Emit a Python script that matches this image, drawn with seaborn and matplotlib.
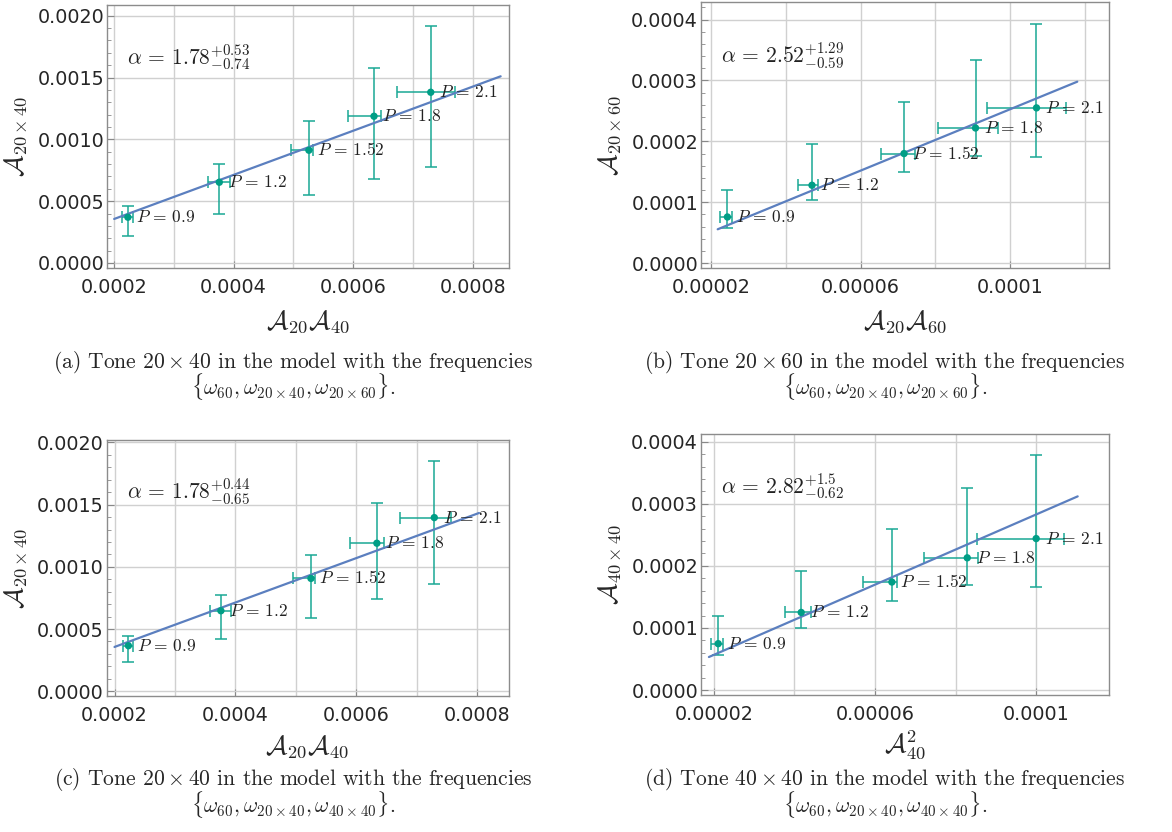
import numpy as np
import matplotlib
matplotlib.use("Agg")
import matplotlib.pyplot as plt
import seaborn as sns
from matplotlib.ticker import MultipleLocator, FixedLocator

sns.set_style("white")
plt.rcParams['font.family'] = ['DejaVu Sans']
plt.rcParams['mathtext.fontset'] = 'cm'

labels = ["0.9", "1.2", "1.52", "1.8", "2.1"]

# panel (a)
a_x = [0.000223, 0.000376, 0.000526, 0.000635, 0.000730]
a_y = [0.000370, 0.000653, 0.000912, 0.001187, 0.001381]
a_xlo = [0.000213, 0.000357, 0.000496, 0.000591, 0.000674]
a_xhi = [0.000232, 0.000394, 0.000533, 0.000647, 0.000770]
a_ylo = [0.000216, 0.000394, 0.000548, 0.000677, 0.000777]
a_yhi = [0.000464, 0.000803, 0.001146, 0.001580, 0.001920]
a_fit_x = [0.000200, 0.000847]
a_fit_y = [0.000356, 0.001510]

# panel (b)
b_x = [0.0000244, 0.0000470, 0.0000716, 0.0000907, 0.0001070]
b_y = [0.0000759, 0.000128, 0.000180, 0.000222, 0.000255]
b_xlo = [0.0000225, 0.0000433, 0.0000654, 0.0000808, 0.0000939]
b_xhi = [0.0000256, 0.0000486, 0.0000745, 0.0000967, 0.0001150]
b_ylo = [0.0000579, 0.000103, 0.000149, 0.000176, 0.000174]
b_yhi = [0.000120, 0.000195, 0.000264, 0.000334, 0.000393]
b_fit_x = [0.0000218, 0.0001179]
b_fit_y = [0.0000557, 0.000298]

# panel (c)
c_x = [0.000223, 0.000376, 0.000525, 0.000634, 0.000729]
c_y = [0.000366, 0.000647, 0.000907, 0.001190, 0.001396]
c_xlo = [0.000214, 0.000358, 0.000496, 0.000590, 0.000672]
c_xhi = [0.000231, 0.000393, 0.000532, 0.000646, 0.000756]
c_ylo = [0.000233, 0.000420, 0.000586, 0.000743, 0.000861]
c_yhi = [0.000444, 0.000775, 0.001096, 0.001514, 0.001850]
c_fit_x = [0.000200, 0.000803]
c_fit_y = [0.000356, 0.001433]

# panel (d)
d_x = [0.0000211, 0.0000417, 0.0000642, 0.0000829, 0.0001000]
d_y = [0.0000747, 0.000125, 0.000174, 0.000213, 0.000244]
d_xlo = [0.0000193, 0.0000376, 0.0000570, 0.0000721, 0.0000852]
d_xhi = [0.0000223, 0.0000441, 0.0000654, 0.0000856, 0.0001070]
d_ylo = [0.0000565, 0.0000995, 0.000144, 0.000169, 0.000166]
d_yhi = [0.000119, 0.000192, 0.000260, 0.000325, 0.000378]
d_fit_x = [0.0000188, 0.0001103]
d_fit_y = [0.0000532, 0.000312]

alphas = [r"$\alpha\,=\,1.78^{+0.53}_{-0.74}$", r"$\alpha\,=\,2.52^{+1.29}_{-0.59}$",
          r"$\alpha\,=\,1.78^{+0.44}_{-0.65}$", r"$\alpha\,=\,2.82^{+1.5}_{-0.62}$"]
ylabels = [r"$\mathcal{A}_{20\times40}$", r"$\mathcal{A}_{20\times60}$",
           r"$\mathcal{A}_{20\times40}$", r"$\mathcal{A}_{40\times40}$"]
xlabels = [r"$\mathcal{A}_{20}\mathcal{A}_{40}$", r"$\mathcal{A}_{20}\mathcal{A}_{60}$",
           r"$\mathcal{A}_{20}\mathcal{A}_{40}$", r"$\mathcal{A}_{40}^2$"]
captions = [
    r"(a) Tone $20\times40$ in the model with the frequencies" + "\n"
    + r"$\{\omega_{60},\omega_{20\times40},\omega_{20\times60}\}$.",
    r"(b) Tone $20\times60$ in the model with the frequencies" + "\n"
    + r"$\{\omega_{60},\omega_{20\times40},\omega_{20\times60}\}$.",
    r"(c) Tone $20\times40$ in the model with the frequencies" + "\n"
    + r"$\{\omega_{60},\omega_{20\times40},\omega_{40\times40}\}$.",
    r"(d) Tone $40\times40$ in the model with the frequencies" + "\n"
    + r"$\{\omega_{60},\omega_{20\times40},\omega_{40\times40}\}$.",
]

panels = [
    (a_x, a_y, a_xlo, a_xhi, a_ylo, a_yhi, a_fit_x, a_fit_y),
    (b_x, b_y, b_xlo, b_xhi, b_ylo, b_yhi, b_fit_x, b_fit_y),
    (c_x, c_y, c_xlo, c_xhi, c_ylo, c_yhi, c_fit_x, c_fit_y),
    (d_x, d_y, d_xlo, d_xhi, d_ylo, d_yhi, d_fit_x, d_fit_y),
]

# axes layout [left, bottom, width, height] and limits
rects = [[0.0913, 0.678, 0.343, 0.316], [0.598, 0.678, 0.348, 0.319],
         [0.091, 0.1635, 0.343, 0.3077], [0.598, 0.1643, 0.348, 0.3137]]
xlims = [(0.000188, 0.000861), (0.0000173, 0.0001263), (0.000187, 0.000852), (0.0000168, 0.000118)]
ylims = [(-0.00004, 0.002087), (-0.0000077, 0.000428), (-0.000038, 0.00202), (-0.0000085, 0.000412)]
xmajor = [[0.0002, 0.0004, 0.0006, 0.0008], [0.00002, 0.00006, 0.0001],
          [0.0002, 0.0004, 0.0006, 0.0008], [0.00002, 0.00006, 0.0001]]
xticklabels = [["0.0002", "0.0004", "0.0006", "0.0008"], ["0.00002", "0.00006", "0.0001"],
               ["0.0002", "0.0004", "0.0006", "0.0008"], ["0.00002", "0.00006", "0.0001"]]
xgrid = [0.0001, 0.00002, 0.0001, 0.00002]
ymajor = [0.0005, 0.0001, 0.0005, 0.0001]
xlabelpad = [8, 8, 6, 3]
caption_x = [0.25, 0.755, 0.25, 0.755]
caption_top = [0.581, 0.581, 0.079, 0.079]

pt_color = "#009e86"
err_color = "#1aa895"
fit_color = "#5b7fbf"

fig = plt.figure(figsize=(11.72, 8.32), dpi=100)

for i, (x, y, xlo, xhi, ylo, yhi, fx, fy) in enumerate(panels):
    ax = fig.add_axes(rects[i])
    x = np.array(x); y = np.array(y)
    xerr = [x - np.array(xlo), np.array(xhi) - x]
    yerr = [y - np.array(ylo), np.array(yhi) - y]
    ax.errorbar(x, y, xerr=xerr, yerr=yerr, fmt="none", ecolor=err_color,
                elinewidth=1.1, capsize=4, capthick=1.1, zorder=2)
    sns.lineplot(x=fx, y=fy, ax=ax, color=fit_color, linewidth=1.6, zorder=3)
    sns.scatterplot(x=x, y=y, ax=ax, color=pt_color, s=28, edgecolor="none", zorder=4)
    for xi, yi, lab in zip(x, y, labels):
        ax.annotate(r"$P\,=\,%s$" % lab, (xi, yi), xytext=(6, 0), textcoords="offset points",
                    va="center", ha="left", fontsize=12.5, color="#222222", zorder=5)
    ax.text(0.05, 0.80, alphas[i], transform=ax.transAxes, fontsize=15.5, va="center",
            ha="left", color="#222222")

    ax.set_xlim(*xlims[i])
    ax.xaxis.set_major_locator(FixedLocator(xmajor[i]))
    ax.set_xticklabels(xticklabels[i])
    ax.xaxis.set_minor_locator(MultipleLocator(xgrid[i]))
    ax.yaxis.set_major_locator(MultipleLocator(ymajor[i]))
    ax.yaxis.set_minor_locator(MultipleLocator(ymajor[i] / 5))
    ax.set_ylim(*ylims[i])
    ax.set_yticks(ax.get_yticks())
    ax.set_yticklabels(["{:.4f}".format(v) for v in ax.get_yticks()])
    ax.set_ylim(*ylims[i])
    ax.grid(True, which="both", axis="x", color="#d0d0d0", linewidth=1.0)
    ax.grid(True, which="major", axis="y", color="#d0d0d0", linewidth=1.0)
    ax.set_axisbelow(True)
    ax.tick_params(which="both", direction="in", left=True, bottom=True, right=False, top=False,
                   color="#888888", labelsize=13.8)
    ax.tick_params(axis="y", pad=2)
    ax.tick_params(axis="x", pad=7)
    ax.tick_params(which="major", length=5)
    ax.tick_params(which="minor", length=3)
    ax.tick_params(axis="x", which="minor", length=0)
    for s in ax.spines.values():
        s.set_color("#8c8c8c"); s.set_linewidth(1.0)
    ax.set_ylabel(ylabels[i], fontsize=19, labelpad=6)
    ax.set_xlabel(xlabels[i], fontsize=19, labelpad=xlabelpad[i])

    fig.text(caption_x[i], caption_top[i], captions[i], ha="center", va="top",
             multialignment="center", linespacing=0.82, fontsize=15.5, family="cmr10")

plt.savefig("out.png", dpi=100)
